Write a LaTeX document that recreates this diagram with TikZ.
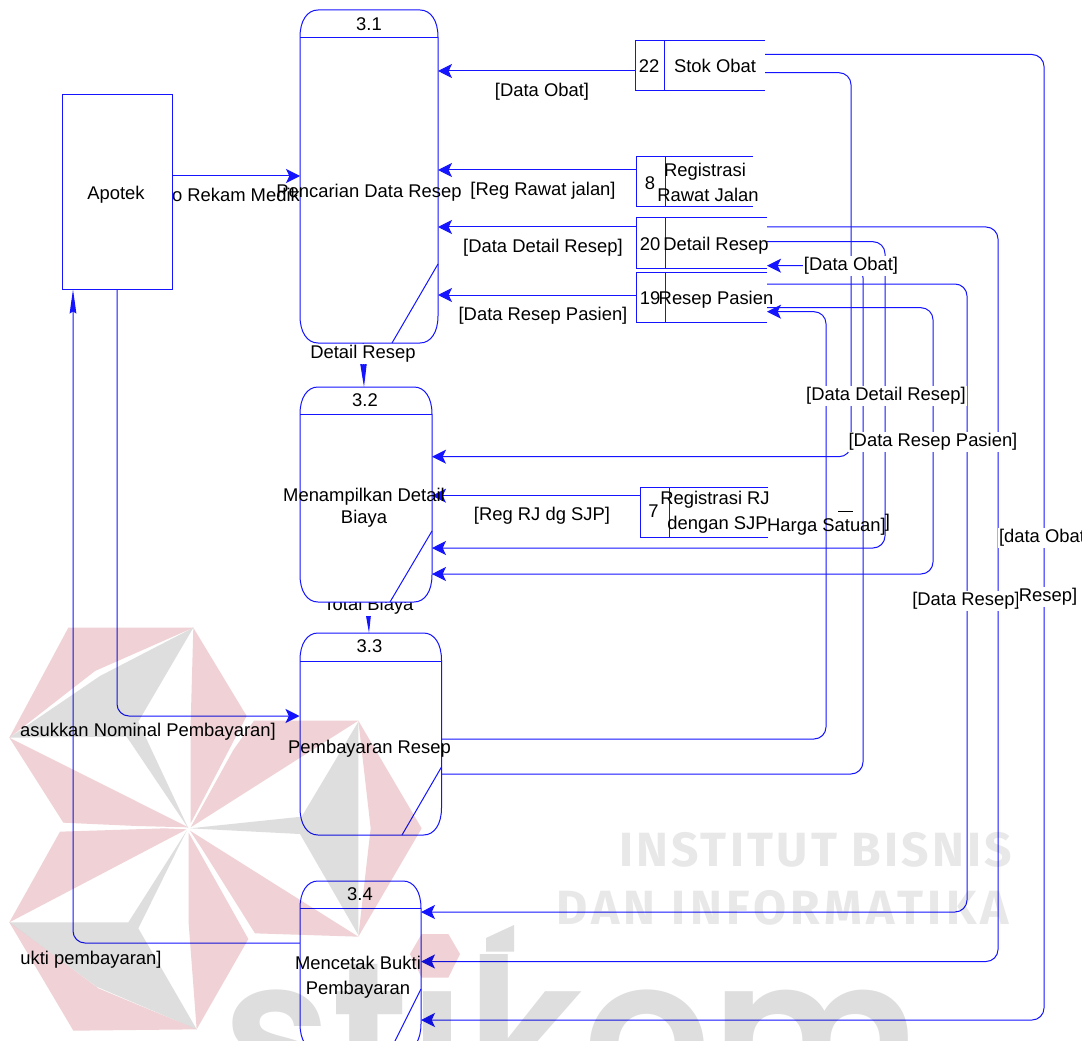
\documentclass[tikz,border=0pt]{standalone}
\usepackage{fontspec}
\setmainfont{Liberation Sans}
\newfontfamily\wmfontA[LetterSpace=6.7]{Fira Sans}
\newfontfamily\wmfontB[LetterSpace=9.2]{Fira Sans}
\newfontfamily\bigfont{Poppins SemiBold}
\usetikzlibrary{arrows.meta,calc}
\definecolor{lineblue}{RGB}{20,20,255}
\definecolor{logored}{RGB}{240,210,214}
\definecolor{logogray}{RGB}{222,222,222}
\definecolor{wmgray}{RGB}{232,232,232}
\tikzset{
  x=0.75pt,y=-0.75pt,
  num/.style={font=\fontsize{13.8}{18.75}\selectfont,inner sep=0pt,outer sep=0pt,align=center,text=black},
  txt/.style={num,yshift=-1.5pt},
  lab/.style={txt,fill=white,inner xsep=0.75pt,inner ysep=0.75pt},
  edge/.style={draw=lineblue,line width=0.75pt},
  flow/.style={edge,rounded corners=9pt,-{Stealth[length=10.5pt,width=10.5pt,inset=2.5pt]}},
  narrowflow/.style={edge,rounded corners=9pt,-{Stealth[length=18pt,width=5pt,inset=1.5pt]}},
  hidden/.style={inner sep=0pt,outer sep=0pt},
}
% name, left, top, right, bottom, header y, diag y on right, diag x on bottom
\newcommand{\procbox}[8]{%
  \node[hidden,minimum width={(#4-#2)*0.75pt},minimum height={(#5-#3)*0.75pt}] (#1) at ({(#2+#4)/2},{(#3+#5)/2}) {};
  \fill[white,edge] (#2,{#3+27}) .. controls (#2,{#3+11}) and ({#2+7},#3) .. ({#2+18},#3)
    -- ({#4-18},#3) .. controls ({#4-7},#3) and (#4,{#3+11}) .. (#4,{#3+27})
    -- (#4,{#5-27}) .. controls (#4,{#5-11}) and ({#4-7},#5) .. ({#4-18},#5)
    -- ({#2+18},#5) .. controls ({#2+7},#5) and (#2,{#5-11}) .. (#2,{#5-27}) -- cycle;
  \draw[edge] (#1.west |- 0,#6) -- (#1.east |- 0,#6);
  \draw[edge] (#1.east |- 0,#7) -- (#8,#5);
}
% name, left, top, right, bottom, divider x
\newcommand{\storebox}[6]{%
  \node[hidden,minimum width={(#4-#2)*0.75pt},minimum height={(#5-#3)*0.75pt}] (#1) at ({(#2+#4)/2},{(#3+#5)/2}) {};
  \draw[edge] (#1.north east) -- (#1.north west) -- (#1.south west) -- (#1.south east);
  \draw[edge] (#6,#3) -- (#6,#5);
}
\begin{document}
\begin{tikzpicture}
\useasboundingbox (0,0) rectangle (1088,1041);
\fill[white] (0,0) rectangle (1088,1041);

% hidden anchors
\node[hidden,minimum width=82.5pt,minimum height=145.9pt,draw=none] (apotek) at (117.5,192.25) {};
\storebox{s22}{635}{41}{765}{91}{664}
\storebox{s8}{636}{157}{753}{207}{665}
\storebox{s20}{636}{218}{767}{269}{665}
\storebox{s19}{636}{273}{767}{322.5}{665}
\storebox{s7}{640.5}{487.5}{768}{537.5}{669}
\node[hidden,minimum width=103.5pt,minimum height=249.75pt] (p1a) at (369,176.5) {};
\node[hidden,minimum width=99pt,minimum height=161.25pt] (p2a) at (366,494.5) {};
\node[hidden,minimum width=106.5pt,minimum height=151.5pt] (p3a) at (370.5,734) {};
\node[hidden,minimum width=90.75pt,minimum height=127.5pt] (p4a) at (360.5,966) {};

% connectors
\draw[flow] (apotek.east |- 0,176) -- (p1a.west |- 0,176);
\draw[flow] (s22.west |- 0,71) -- (p1a.east |- 0,71);
\draw[flow] (s8.west |- 0,170) -- (p1a.east |- 0,170);
\draw[flow] (s20.west |- 0,227) -- (p1a.east |- 0,227);
\draw[flow] (s19.west |- 0,295) -- (p1a.east |- 0,295);
\draw[flow] (s7.west |- 0,495.7) -- (p2a.east |- 0,495.7);
\draw[narrowflow] (363,343) -- (364,387);
\draw[narrowflow] (368,602) -- (369,633);
\draw[flow] (117,289.5) -- (117,716) -- (p3a.west |- 0,716);
\draw[narrowflow] (p4a.west |- 0,943) -- (73,943) -- (73,289.5);
\draw[flow] (s22.east |- 0,54.5) -- (1044,54.5) -- (1044,1020) -- (p4a.east |- 0,1020);
\draw[flow] (s22.east |- 0,72.7) -- (851,72.7) -- (851,456.7) -- (p2a.east |- 0,456.7);
\draw[flow] (s20.east |- 0,227) -- (998,227) -- (998,961.5) -- (p4a.east |- 0,961.5);
\draw[flow] (s20.east |- 0,241.7) -- (885,241.7) -- (885,548) -- (p2a.east |- 0,548);
\draw[flow] (s19.east |- 0,284) -- (967,284) -- (967,912) -- (p4a.east |- 0,912);
\draw[flow] (s19.east |- 0,307.7) -- (933,307.7) -- (933,574) -- (p2a.east |- 0,574);
\draw[flow] (p3a.east |- 0,739) -- (826,739) -- (826,311.7) -- (s19.east |- 0,311.7);
\draw[flow] (p3a.east |- 0,774) -- (863,774) -- (863,265.7) -- (s20.east |- 0,265.7);

% connector labels
\node[txt] (l1) at (542,90) {[Data Obat]};
\node[txt] (l2) at (543,189) {[Reg Rawat jalan]};
\node[txt] (l3) at (543,246) {[Data Detail Resep]};
\node[txt] (l4) at (543,314) {[Data Resep Pasien]};
\node[txt] (l5) at (542,514) {[Reg RJ dg SJP]};
\node[num,anchor=west] (l6) at (172,195) {o Rekam Medik};
\node[lab] (l7) at (363,352) {Detail Resep};
\node[lab] (l8) at (368.5,604) {Total Biaya};
\node[txt] (l9) at (148,730) {asukkan Nominal Pembayaran]};
\node[txt] (l10) at (91,958) {ukti pembayaran]};
\node[lab] (l11) at (851,264) {[Data Obat]};
\node[lab] (l12) at (886,394) {[Data Detail Resep]};
\node[lab] (l13) at (933,440) {[Data Resep Pasien]};
\node[lab] (l14) at (966,599) {[Data Resep]};
\node[lab] (l15) at (1048,595) {Resep]};
\begin{scope}
  \clip (990,515) rectangle (1081,552);
  \node[lab,anchor=west] (l16) at (998,536) {[data Obat};
\end{scope}
\draw[black,line width=0.7pt] (838,511) -- (853,511);
\node[txt] (l17) at (826.5,525) {Harga Satuan]};
\node[txt] (l18) at (887.5,521) {]};

% processes
\procbox{p1}{300}{10}{438}{343}{38}{264}{392}
\procbox{p2}{300}{387}{432}{602}{414.5}{531}{390}
\procbox{p3}{300}{633}{441.5}{835}{661}{767}{402}
\begin{scope}
  \clip (280,870) rectangle (440,1041);
  \procbox{p4}{300}{881}{421}{1051}{908}{989}{390}
\end{scope}
\draw[edge] (apotek.north west) rectangle (apotek.south east);

% node texts
\node[txt] (t0) at (116,193) {Apotek};
\node[num] (t1) at (369,24) {3.1};
\node[txt] (t2) at (369,191) {Pencarian Data Resep};
\node[num] (t3) at (365,400) {3.2};
\node[txt,font=\fontsize{13.8}{16.5}\selectfont] (t4) at (364,505.5) {Menampilkan Detail\\Biaya};
\node[num] (t5) at (369.5,646) {3.3};
\node[txt] (t6) at (369.5,747) {Pembayaran Resep};
\node[num] (t7) at (360,894) {3.4};
\node[txt] (t8) at (358,975) {Mencetak Bukti\\Pembayaran};
\node[num] (n22) at (649,66) {22};
\node[num] (t22) at (715,66) {Stok Obat};
\node[num] (n8) at (650,183) {8};
\node[txt] (t8b) at (708,180) {Registrasi\kern4.5pt\\Rawat Jalan};
\node[num] (n20) at (650,244) {20};
\node[txt] (t20) at (716,244) {Detail Resep};
\node[num] (n19) at (650,298) {19};
\node[txt] (t19) at (716,298) {Resep Pasien};
\node[num] (n7) at (653.5,511) {7};
\node[txt] (t7b) at (715,510) {Registrasi RJ\\\kern3.75pt dengan SJP};

% watermark
\begin{scope}[blend mode=multiply]
\node[hidden,anchor=base west,text=wmgray,font=\wmfontA\bfseries\fontsize{36}{36}\selectfont] (wm1) at (619,866) {INSTITUT BISNIS};
\node[hidden,anchor=base west,text=wmgray,font=\wmfontB\bfseries\fontsize{36}{36}\selectfont] (wm2) at (556,924) {DAN INFORMATIKA};
\node[hidden,anchor=base west,text=logogray,font=\bigfont\fontsize{150}{150}\selectfont] (wm3) at (222,1102) {st^^^^0131kom};
\fill[logogray] (486,938) -- (514,925) -- (514,951.5) -- (486,951.5) -- cycle;
\begin{scope}[shift={(0,590)},x=0.25pt,y=-0.25pt]
  \fill[logored] (28,443) -- (205,113) -- (580,113) -- (285,243) -- cycle;
  \fill[logogray] (28,443) -- (300,258) -- (580,113) -- (415,395) -- (565,715) -- (380,440) -- cycle;
  \fill[logored] (28,443) -- (565,712) -- (410,708) -- (190,698) -- cycle;
  \fill[logored] (580,113) -- (740,378) -- (572,700) -- (572,400) -- cycle;
  \fill[logored] (762,392) -- (1075,392) -- (572,712) -- (700,480) -- cycle;
  \fill[logored] (1075,392) -- (1265,715) -- (1075,1040) -- (1112,715) -- cycle;
  \fill[logogray] (1075,395) -- (905,680) -- (570,715) -- (900,732) -- (1075,1035) -- cycle;
  \fill[logored] (570,722) -- (1075,1040) -- (765,1030) -- (605,775) -- cycle;
  \fill[logored] (566,728) -- (745,1047) -- (590,1318) -- (566,1000) -- cycle;
  \fill[logogray] (560,722) -- (415,1015) -- (590,1318) -- (290,1190) -- (28,997) -- (385,997) -- cycle;
  \fill[logored] (28,997) -- (295,1195) -- (590,1318) -- (220,1322) -- cycle;
  \fill[logored] (28,997) -- (180,725) -- (495,715) -- (560,718) -- cycle;
  \fill[logored] (1265,1032) -- (1345,1032) -- (1380,1092) -- (1345,1163) -- (1265,1163) -- (1230,1092) -- cycle;
\end{scope}
\end{scope}
\end{tikzpicture}
\end{document}
